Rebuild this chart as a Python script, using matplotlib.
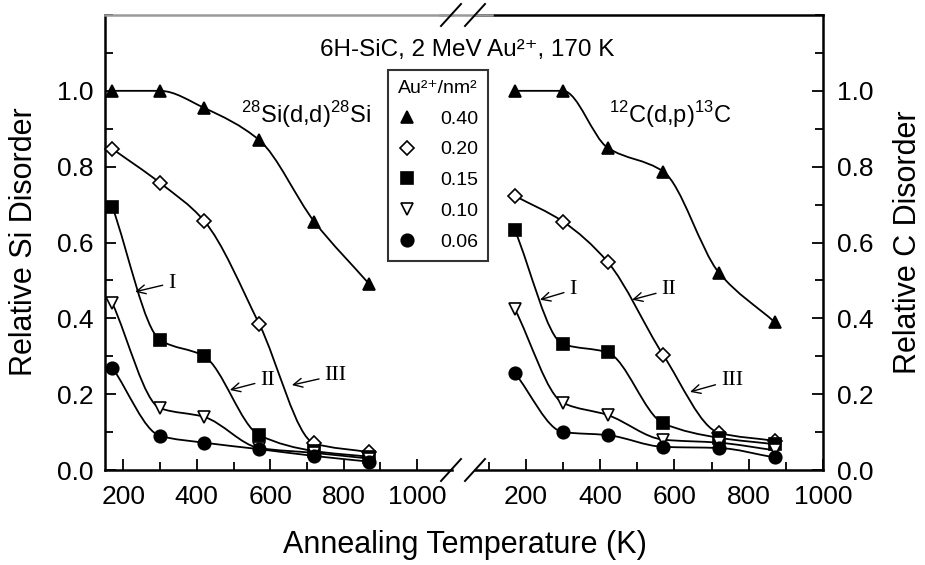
import numpy as np
import matplotlib
matplotlib.use("Agg")
import matplotlib.pyplot as plt
from matplotlib.path import Path
from matplotlib.patches import PathPatch
from matplotlib.lines import Line2D
from matplotlib.ticker import MultipleLocator

plt.rcParams['font.family'] = ['Liberation Sans', 'DejaVu Sans']
plt.rcParams['mathtext.fontset'] = 'custom'
plt.rcParams['mathtext.rm'] = 'Liberation Sans'

# ---- data ----
temps = [170, 300, 420, 570, 720, 870]
fluences = ["0.40", "0.20", "0.15", "0.10", "0.06"]

si_040 = [1.00, 1.00, 0.955, 0.87, 0.655, 0.49]
si_020 = [0.847, 0.757, 0.657, 0.385, 0.07, 0.047]
si_015 = [0.694, 0.343, 0.300, 0.092, 0.050, 0.035]
si_010 = [0.440, 0.163, 0.140, 0.058, 0.045, 0.030]
si_006 = [0.270, 0.090, 0.072, 0.055, 0.037, 0.022]

c_040 = [1.00, 1.00, 0.85, 0.787, 0.52, 0.39]
c_020 = [0.723, 0.655, 0.549, 0.303, 0.098, 0.077]
c_015 = [0.633, 0.332, 0.310, 0.123, 0.085, 0.068]
c_010 = [0.425, 0.177, 0.145, 0.080, 0.072, 0.052]
c_006 = [0.256, 0.100, 0.092, 0.061, 0.058, 0.033]

si_series = [si_040, si_020, si_015, si_010, si_006]
c_series = [c_040, c_020, c_015, c_010, c_006]

markers = ['^', 'D', 's', 'v', 'o']
mfaces = ['black', 'white', 'black', 'white', 'black']
msizes = [9, 7, 8.5, 8, 9]

W, H = 925, 565
fig = plt.figure(figsize=(W / 100, H / 100), dpi=100)


def px_rect(x0, x1, y0, y1):
    return [x0 / W, 1 - y1 / H, (x1 - x0) / W, (y1 - y0) / H]


ax1 = fig.add_axes(px_rect(105, 452, 15, 470))
ax2 = fig.add_axes(px_rect(475, 823, 15, 470))
ax1.set_xlim(150, 1095)
ax2.set_xlim(63, 1000)
for ax in (ax1, ax2):
    ax.set_ylim(0, 1.2)
    ax.xaxis.set_major_locator(MultipleLocator(200))
    ax.xaxis.set_minor_locator(MultipleLocator(100))
    ax.yaxis.set_major_locator(MultipleLocator(0.2))
    ax.yaxis.set_minor_locator(MultipleLocator(0.1))
    ax.tick_params(which='both', direction='in', labelsize=19, width=1.3)
    ax.tick_params(which='major', length=8)
    ax.tick_params(which='minor', length=6)
    ax.tick_params(axis='x', which='both', top=False, pad=11)
    for s in ax.spines.values():
        s.set_linewidth(1.8)

ax1.spines['right'].set_visible(False)
ax1.spines['top'].set_color('#9a9a9a')
ax1.tick_params(axis='y', which='both', right=False, pad=8)
ax1.set_yticks([0.0, 0.2, 0.4, 0.6, 0.8, 1.0])
ax1.set_yticklabels(['0.0', '0.2', '0.4', '0.6', '0.8', '1.0'])

ax2.spines['left'].set_visible(False)
ax2.yaxis.tick_right()
ax2.tick_params(axis='y', which='both', left=False, right=True, pad=10)
ax2.set_yticks([0.0, 0.2, 0.4, 0.6, 0.8, 1.0])
ax2.set_yticklabels(['0.0', '0.2', '0.4', '0.6', '0.8', '1.0'])


def pchip_path(x, y):
    x = np.asarray(x, float)
    y = np.asarray(y, float)
    h = np.diff(x)
    d = np.diff(y) / h
    n = len(x)
    m = np.zeros(n)
    for k in range(1, n - 1):
        if d[k - 1] * d[k] <= 0:
            m[k] = 0.0
        else:
            w1 = 2 * h[k] + h[k - 1]
            w2 = h[k] + 2 * h[k - 1]
            m[k] = (w1 + w2) / (w1 / d[k - 1] + w2 / d[k])
    m[0] = d[0]
    m[-1] = d[-1]
    verts = [(x[0], y[0])]
    codes = [Path.MOVETO]
    for k in range(n - 1):
        verts += [(x[k] + h[k] / 3, y[k] + m[k] * h[k] / 3),
                  (x[k + 1] - h[k] / 3, y[k + 1] - m[k + 1] * h[k] / 3),
                  (x[k + 1], y[k + 1])]
        codes += [Path.CURVE4] * 3
    return Path(verts, codes)


handles = []
for ax, series in ((ax1, si_series), (ax2, c_series)):
    for i, ys in enumerate(series):
        ax.add_patch(PathPatch(pchip_path(temps, ys), fill=False,
                               lw=1.3, ec='black', zorder=2))
    for i, ys in enumerate(series):
        h, = ax.plot(temps, ys, linestyle='none', marker=markers[i],
                     ms=msizes[i], mfc=mfaces[i], mec='black', mew=1.2,
                     zorder=3, clip_on=False)
        if ax is ax1:
            handles.append(h)

# reaction labels
ax1.text(697, 0.937, r'$^{28}$Si(d,d)$^{28}$Si', fontsize=17,
         ha='center', va='center')
ax2.text(588, 0.937, r'$^{12}$C(d,p)$^{13}$C', fontsize=17,
         ha='center', va='center')

# annotations
arrow = dict(arrowstyle='->', lw=1.0, color='black', shrinkA=2, shrinkB=0)
serif = dict(family='Liberation Serif', fontsize=16)
ann1 = [("I", (332, 0.493), (232, 0.47)),
        ("II", (593, 0.237), (490, 0.211)),
        ("III", (778, 0.25), (659, 0.224))]
ann2 = [("I", (327, 0.475), (238, 0.449)),
        ("II", (585, 0.475), (486, 0.449)),
        ("III", (755, 0.237), (642, 0.206))]
for ax, anns in ((ax1, ann1), (ax2, ann2)):
    for txt, xyt, xy in anns:
        ax.annotate(txt, xy=xy, xytext=xyt, ha='center', va='center',
                    arrowprops=arrow, **serif)

# legend
leg = fig.legend(handles, fluences, title='Au\u00b2\u207a/nm\u00b2',
                 loc='upper left',
                 bbox_to_anchor=(388 / W, 1 - 70 / H),
                 fontsize=14, title_fontsize=14, frameon=True,
                 fancybox=False, edgecolor='black', handlelength=1.0,
                 handletextpad=1.2, labelspacing=0.68, borderpad=0.5,
                 borderaxespad=0.0)
leg.get_frame().set_linewidth(1.5)

# title and axis labels
fig.text(467 / W, 1 - 50 / H, '6H-SiC, 2 MeV Au\u00b2\u207a, 170 K',
         fontsize=17.5, ha='center', va='center')
fig.text(465 / W, 1 - 545 / H, 'Annealing Temperature (K)', fontsize=22,
         ha='center', va='center')
fig.text(24 / W, 1 - 242 / H, 'Relative Si Disorder', fontsize=22,
         rotation=90, ha='center', va='center')
fig.text(908 / W, 1 - 242 / H, 'Relative C Disorder', fontsize=22,
         rotation=90, ha='center', va='center')

# top connector and break marks
def fig_line(xs, ys, **kw):
    fig.add_artist(Line2D([x / W for x in xs], [1 - y / H for y in ys],
                          transform=fig.transFigure, **kw))

fig_line([440, 492], [15, 15], color='#9a9a9a', lw=1.8)
for yc in (15, 470):
    fig_line([441, 461], [yc + 11, yc - 11], color='black', lw=1.4)
    fig_line([465, 485], [yc + 11, yc - 11], color='black', lw=1.4)

fig.savefig('out.png', dpi=100)
